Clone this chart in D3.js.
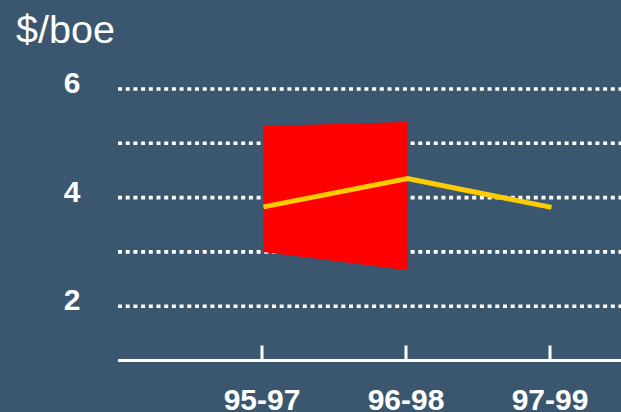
<!DOCTYPE html>
<html>
<head>
<meta charset="utf-8">
<script src="https://cdn.jsdelivr.net/npm/d3@7"></script>
<style>
  html, body { margin: 0; padding: 0; background: #3b5770; }
  svg { display: block; }
</style>
</head>
<body>
<svg id="chart" width="621" height="412"></svg>
<script>
const categories = ["95-97", "96-98", "97-99"];
const rangeLow = [3.0, 2.66];
const rangeHigh = [5.32, 5.39];
const lineValues = [3.83, 4.35, 3.82];
const gridValues = [2, 3, 4, 5, 6];
const yTickLabels = [2, 4, 6];
const yUnit = "$/boe";

const W = 621, H = 412;
const svg = d3.select("#chart");
svg.append("rect").attr("width", W).attr("height", H).attr("fill", "#3b5770");

const x = d3.scalePoint().domain(categories).range([262, 550]);
const y = d3.scaleLinear().domain([1, 6]).range([360.5, 89]);

// gridlines
svg.append("g").selectAll("line").data(gridValues).join("line")
  .attr("x1", 118).attr("x2", W)
  .attr("y1", d => y(d)).attr("y2", d => y(d))
  .attr("stroke", "#ffffff").attr("stroke-width", 3.6)
  .attr("stroke-dasharray", "4,3.7");

// y labels
svg.append("g").selectAll("text").data(yTickLabels).join("text")
  .attr("x", 72).attr("y", d => y(d) + 4)
  .attr("text-anchor", "middle")
  .attr("font-family", "Liberation Sans, Arial, sans-serif")
  .attr("font-weight", "bold").attr("font-size", 30)
  .attr("fill", "#ffffff")
  .text(d => d);

// unit label
svg.append("text").attr("x", 16).attr("y", 43)
  .attr("font-family", "Liberation Sans, Arial, sans-serif")
  .attr("font-size", 39.5).attr("fill", "#ffffff")
  .text(yUnit);

// red range band
const bandData = rangeLow.map((lo, i) => ({cat: categories[i], lo, hi: rangeHigh[i]}));
const area = d3.area()
  .x(d => x(d.cat) + 1.5)
  .y0(d => y(d.lo))
  .y1(d => y(d.hi));
svg.append("path").datum(bandData).attr("d", area).attr("fill", "#ff0000");

// yellow line
const lineData = lineValues.map((v, i) => ({cat: categories[i], v}));
svg.append("path").datum(lineData)
  .attr("d", d3.line().x(d => x(d.cat) + 1.5).y(d => y(d.v)))
  .attr("fill", "none").attr("stroke", "#ffcc00").attr("stroke-width", 5);

// x axis
const axisY = y(1);
svg.append("line").attr("x1", 118).attr("x2", W)
  .attr("y1", axisY).attr("y2", axisY)
  .attr("stroke", "#ffffff").attr("stroke-width", 3);
svg.append("g").selectAll("line").data(categories).join("line")
  .attr("x1", d => x(d)).attr("x2", d => x(d))
  .attr("y1", axisY).attr("y2", axisY - 15)
  .attr("stroke", "#ffffff").attr("stroke-width", 3);
svg.append("g").selectAll("text").data(categories).join("text")
  .attr("x", d => x(d)).attr("y", 410)
  .attr("text-anchor", "middle")
  .attr("font-family", "Liberation Sans, Arial, sans-serif")
  .attr("font-weight", "bold").attr("font-size", 30)
  .attr("fill", "#ffffff")
  .text(d => d);
</script>
</body>
</html>
